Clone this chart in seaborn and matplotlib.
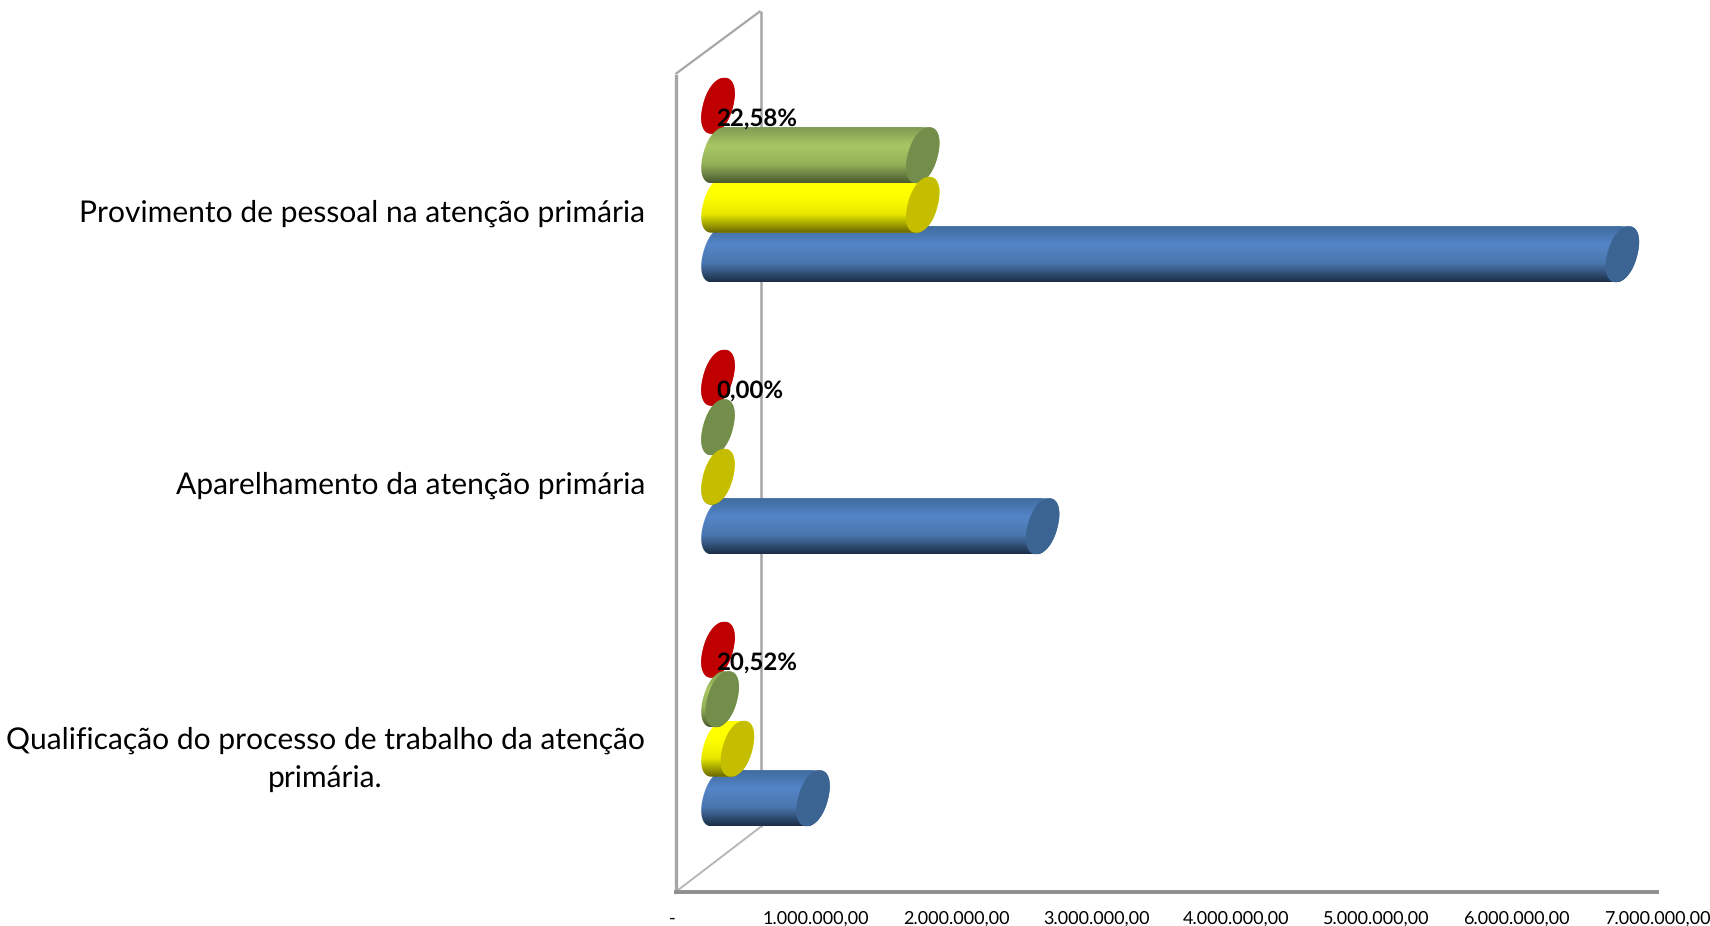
import numpy as np
import pandas as pd
import matplotlib
matplotlib.use("Agg")
import matplotlib.pyplot as plt
import seaborn as sns
from matplotlib.colors import LinearSegmentedColormap
from matplotlib.path import Path

categories = ["Provimento de pessoal na atenção primária",
              "Aparelhamento da atenção primária",
              "Qualificação do processo de trabalho da atenção\nprimária."]
series_names = ["Série 4", "Série 3", "Série 2", "Série 1"]
red_values = [0.0, 0.0, 0.0]
green_values = [1460000, 0.0, 30000]
yellow_values = [1460000, 0.0, 138500]
blue_values = [6450000, 2315000, 678000]
pct_labels = ["22,58%", "0,00%", "20,52%"]
x_ticks = [0, 1000000, 2000000, 3000000, 4000000, 5000000, 6000000, 7000000]
x_tick_labels = ["-", "1.000.000,00", "2.000.000,00", "3.000.000,00", "4.000.000,00",
                 "5.000.000,00", "6.000.000,00", "7.000.000,00"]

W, H = 1710, 926
AX_L, AX_R, AX_T, AX_B = 675.5, 1657, 11, 892
PX_X = (AX_R - AX_L) / 7e6
GROUP0, GROUP_STEP = 180, 272
PX_Y = GROUP_STEP
DEPTH_X, DEPTH_Y = 85, 65
FRONT_TOP = 76
LABEL_SHIFT = np.array([31, 31, 27])

sns.set_theme(style="white")
plt.rcParams["font.family"] = ["Lato", "DejaVu Sans"]
plt.rcParams["text.hinting"] = "none"
plt.rcParams["text.hinting_factor"] = 1

df = pd.DataFrame({
    "categoria": categories * 4,
    "serie": np.repeat(series_names, 3),
    "valor": red_values + green_values + yellow_values + blue_values,
})

cap_colors = {"Série 4": "#C00000", "Série 3": "#738E4A", "Série 2": "#C4BD00", "Série 1": "#3B6492"}
grads = {
    "Série 4": ["#C00000", "#C00000", "#C00000", "#C00000"],
    "Série 3": ["#7F9B53", "#A8C763", "#94B058", "#4A5C30"],
    "Série 2": ["#FFFF00", "#FFFF00", "#E8E800", "#6A6800"],
    "Série 1": ["#3F6CA0", "#5485C6", "#4A76AE", "#1C2F48"],
}

fig = plt.figure(figsize=(W / 100, H / 100), dpi=100, facecolor="white")
ax = fig.add_axes([AX_L / W, 1 - AX_B / H, (AX_R - AX_L) / W, (AX_B - AX_T) / H])
x_base = (DEPTH_X / 2) / PX_X

sns.barplot(data=df, y="categoria", x="valor", hue="serie", order=categories,
            hue_order=series_names, palette=cap_colors, width=0.728, gap=-0.13,
            dodge=True, legend=False, left=x_base, linewidth=0, ax=ax, orient="y")

HALF_W = 16.5
SKEW = 6.5
A = np.sqrt(HALF_W**2 - SKEW**2)
ROUND = 0.93

def ellipse(cx, cy, b, t):
    c = np.sign(np.cos(t)) * np.abs(np.cos(t)) ** ROUND
    s = np.sign(np.sin(t)) * np.abs(np.sin(t)) ** ROUND
    x = cx + (A * c - SKEW * s) / PX_X
    y = cy + b * s
    return x, y

z_body = {"Série 4": 3.0, "Série 1": 3.1, "Série 2": 3.3, "Série 3": 3.4}
z_cap = {"Série 4": 3.05, "Série 1": 3.2, "Série 2": 3.6, "Série 3": 3.5}

for container, name in zip(ax.containers, series_names):
    cmap = LinearSegmentedColormap.from_list(name, grads[name])
    grad = cmap(np.linspace(0, 1, 80))[:, None, :3]
    for bar in container:
        y0, h = bar.get_y(), bar.get_height()
        x0, x1 = bar.get_x(), bar.get_x() + bar.get_width()
        cy, b = y0 + h / 2, h / 2
        t_left = np.linspace(-np.pi / 2, -3 * np.pi / 2, 50)
        t_right = np.linspace(np.pi / 2, -np.pi / 2, 50)
        lx, ly = ellipse(x0, cy, b, t_left)
        rx, ry = ellipse(x1, cy, b, t_right)
        poly = Path(np.column_stack([np.r_[lx, rx], np.r_[ly, ry]]), closed=False)
        bar.set_zorder(z_body[name])
        bar.set_clip_path(poly, ax.transData)
        left_ext = x0 - (HALF_W + 1) / PX_X
        right_ext = x1 + (HALF_W + 1) / PX_X
        im = ax.imshow(grad, extent=(left_ext, right_ext, y0 + h, y0), origin="upper",
                       aspect="auto", interpolation="bilinear", zorder=z_body[name])
        im.set_clip_path(poly, ax.transData)
        tc = np.linspace(0, 2 * np.pi, 120)
        cx_, cy_ = ellipse(x1, cy, b, tc)
        ax.fill(cx_, cy_, color=cap_colors[name], lw=0, zorder=z_cap[name])

# data labels, anchored on the front (red) series
for bar, txt in zip(ax.containers[0], pct_labels):
    ax.text(bar.get_x() - 2 / PX_X, bar.get_y() + bar.get_height() / 2 + 13 / PX_Y, txt,
            ha="left", va="center", fontsize=17.2, fontweight="bold", color="black", zorder=6)

# axes
ax.set_xlim(0, 7e6)
y_bottom = (AX_B - GROUP0) / PX_Y
y_top = (AX_T - GROUP0) / PX_Y
ax.set_ylim(y_bottom, y_top)
ax.set_xlabel("")
ax.set_ylabel("")
ax.patch.set_alpha(0)
ax.set_xticks(x_ticks, labels=x_tick_labels, fontsize=13.3, color="black")
ax.get_xticklabels()[0].set_ha("right")
ax.set_yticks(np.arange(3) + LABEL_SHIFT / PX_Y, labels=categories, fontsize=21.3, color="black")
for lab in ax.get_yticklabels():
    lab.set_multialignment("center")
    lab.set_linespacing(1.55)
ax.tick_params(axis="x", length=0, pad=13.2)
ax.tick_params(axis="y", length=0, pad=22)

for s in ("top", "right"):
    ax.spines[s].set_visible(False)
ax.spines["left"].set_color("#A6A6A6")
ax.spines["left"].set_linewidth(2.4)
ax.spines["left"].set_bounds(y_bottom, (FRONT_TOP - GROUP0) / PX_Y)
ax.spines["bottom"].set_color("#8F8F8F")
ax.spines["bottom"].set_linewidth(2.8)

# 3D walls
hgt = AX_B - AX_T
wid = AX_R - AX_L
dx, dy = DEPTH_X / wid, DEPTH_Y / hgt
front_top = (AX_B - FRONT_TOP + 2) / hgt
wall = dict(transform=ax.transAxes, clip_on=False, solid_capstyle="butt")
ax.plot([dx, dx], [dy, 1], color="#A6A6A6", lw=1.8, zorder=1, **wall)
ax.plot([0, dx], [front_top, 1], color="#A6A6A6", lw=1.6, zorder=1, **wall)
ax.plot([0, dx], [0, dy], color="#B5B5B5", lw=1.4, zorder=1, **wall)

fig.savefig("out.png", dpi=100, facecolor="white")
